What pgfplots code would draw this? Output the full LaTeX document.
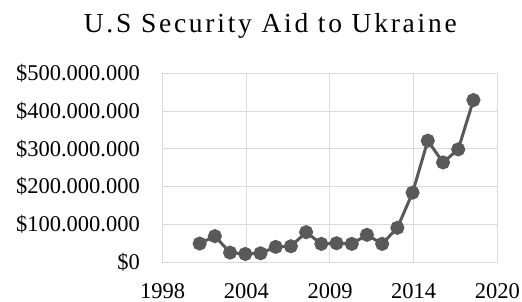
\documentclass[border=0pt]{standalone}
\usepackage{pgfplots}
\pgfplotsset{compat=1.18}
\usepackage{fontspec}
\setmainfont{Liberation Serif}
\definecolor{linegray}{HTML}{595959}
\definecolor{gridgray}{HTML}{D9D9D9}
\begin{document}
\begin{tikzpicture}
\path[use as bounding box] (-162.7bp,-40bp) rectangle (359.3bp,262bp);
\begin{axis}[
  at={(0,0)}, anchor=origin,
  scale only axis,
  width=334.6bp, height=188.7bp,
  xmin=1997.57, xmax=2019.57,
  ymin=0, ymax=500000000,
  xtick={1997.57,2003.07,2008.57,2014.07,2019.57},
  xticklabels={1998,2004,2009,2014,2020},
  ytick={0,100000000,200000000,300000000,400000000,500000000},
  yticklabels={\$0,\$100.000.000,\$200.000.000,\$300.000.000,\$400.000.000,\$500.000.000},
  scaled y ticks=false,
  grid=major,
  major grid style={gridgray, line width=1bp},
  axis line style={gridgray, line width=1bp},
  major tick length=0pt,
  tick style={draw=none},
  ticklabel style={font=\fontsize{22.5bp}{27bp}\selectfont, inner sep=0pt},
  yticklabel style={anchor=east, xshift=-22.7bp},
  xticklabel style={anchor=north, yshift=-21.3bp},
  clip=false,
]
\addplot[color=linegray, line width=3bp, mark=*, mark size=5.5bp, mark options={fill=linegray, draw=linegray}] coordinates {
(2000,48800000) (2001,68400000) (2002,24900000) (2003,21300000) (2004,23100000)
(2005,40000000) (2006,41700000) (2007,79000000) (2008,48000000) (2009,49700000)
(2010,48000000) (2011,72000000) (2012,48000000) (2013,90600000) (2014,183800000)
(2015,321500000) (2016,263800000) (2017,298400000) (2018,429000000)
};
\end{axis}
\node[anchor=base, inner sep=0pt, font={\fontsize{27.5bp}{33bp}\selectfont\addfontfeatures{LetterSpace=10}}] at (107.6bp,229bp) {U.S Security Aid to Ukraine};
\end{tikzpicture}
\end{document}
